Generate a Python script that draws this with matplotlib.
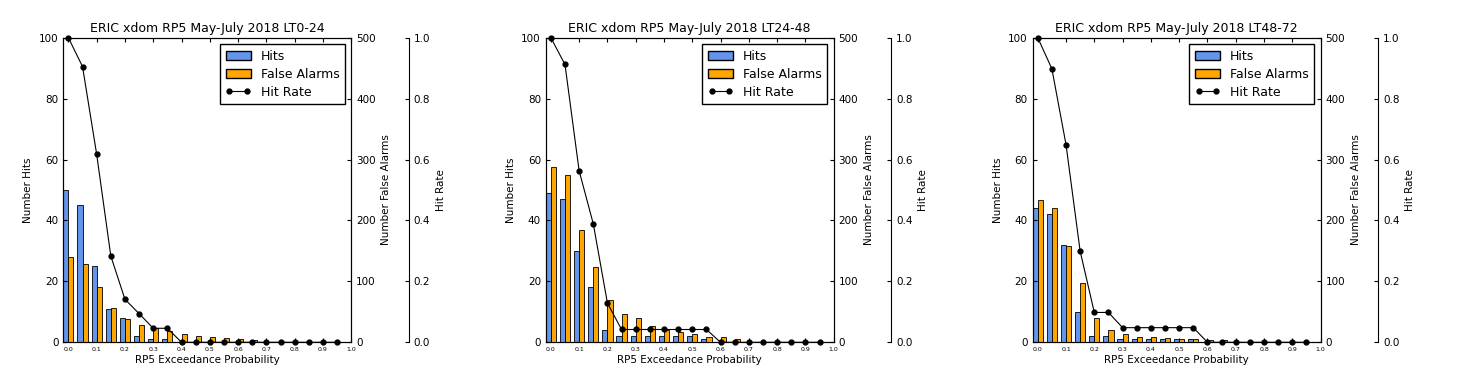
import matplotlib
matplotlib.use('Agg')
import matplotlib.pyplot as plt
from matplotlib.patches import Patch
from matplotlib.lines import Line2D
import numpy as np

# exceedance probability thresholds
probs = [0.0, 0.05, 0.1, 0.15, 0.2, 0.25, 0.3, 0.35, 0.4, 0.45,
         0.5, 0.55, 0.6, 0.65, 0.7, 0.75, 0.8, 0.85, 0.9, 0.95]

# LT0-24
hits_lt0 = [50, 45, 25, 11, 8, 2, 1, 1, 0, 0, 0, 0, 0, 0, 0, 0, 0, 0, 0, 0]
fa_lt0 = [140, 128, 90, 57, 39, 28, 23, 19, 13, 11, 9, 7, 5, 3, 1, 0, 0, 0, 0, 0]
hr_lt0 = [1.0, 0.905, 0.617, 0.283, 0.141, 0.094, 0.046, 0.046, 0.0, 0.0,
          0.0, 0.0, 0.0, 0.0, 0.0, 0.0, 0.0, 0.0, 0.0, 0.0]

# LT24-48
hits_lt24 = [49, 47, 30, 18, 4, 2, 2, 2, 2, 2, 2, 1, 0, 0, 0, 0, 0, 0, 0, 0]
fa_lt24 = [287, 274, 184, 123, 69, 47, 40, 27, 20, 17, 13, 9, 8, 5, 1, 1, 0, 0, 0, 0]
hr_lt24 = [1.0, 0.912, 0.563, 0.389, 0.129, 0.042, 0.042, 0.042, 0.042, 0.042,
           0.042, 0.042, 0.0, 0.0, 0.0, 0.0, 0.0, 0.0, 0.0, 0.0]

# LT48-72
hits_lt48 = [44, 42, 32, 10, 2, 2, 1, 1, 1, 1, 1, 1, 0, 0, 0, 0, 0, 0, 0, 0]
fa_lt48 = [234, 221, 158, 97, 40, 20, 13, 9, 8, 7, 5, 5, 3, 3, 1, 0, 0, 0, 0, 0]
hr_lt48 = [1.0, 0.898, 0.649, 0.299, 0.098, 0.098, 0.048, 0.048, 0.048, 0.048,
           0.048, 0.048, 0.0, 0.0, 0.0, 0.0, 0.0, 0.0, 0.0, 0.0]

titles = ['ERIC xdom RP5 May-July 2018 LT0-24',
          'ERIC xdom RP5 May-July 2018 LT24-48',
          'ERIC xdom RP5 May-July 2018 LT48-72']

hit_col = '#6495ED'
fa_col = '#FFA500'
w = 0.018

fig = plt.figure(figsize=(14.79, 3.81), dpi=100)
lefts = [0.0428, 0.369, 0.6982]

def panel(left, hits, fa, hr, title):
    ax = fig.add_axes([left, 0.1016, 0.1947, 0.7995])
    x = np.array(probs)
    ax.bar(x - w/2, hits, width=w, color=hit_col, edgecolor='k', linewidth=0.6)
    ax.set_ylim(0, 100)
    ax.set_xlim(-w, 1.0)
    ax.set_yticks([0, 20, 40, 60, 80, 100])
    ax.set_xticks(np.arange(0, 1.01, 0.1))
    ax.set_xticklabels(['%.1f' % v for v in np.arange(0, 1.01, 0.1)])
    ax.tick_params(axis='x', labelsize=4.5, direction='in', top=True, length=3)
    ax.tick_params(axis='y', labelsize=7.5, direction='in', length=3)
    ax.set_xlabel('RP5 Exceedance Probability', fontsize=7.5, labelpad=2)
    ax.set_ylabel('Number Hits', fontsize=7.5)
    ax.set_title(title, fontsize=9, pad=4)

    ax2 = ax.twinx()
    ax2.bar(x + w/2, fa, width=w, color=fa_col, edgecolor='k', linewidth=0.6)
    ax2.set_ylim(0, 500)
    ax2.set_yticks([0, 100, 200, 300, 400, 500])
    ax2.tick_params(axis='y', labelsize=7.5, direction='in', length=3)
    ax2.set_ylabel('Number False Alarms', fontsize=7.5)

    ax3 = ax.twinx()
    ax3.spines['right'].set_position(('axes', 1.2))
    ax3.set_frame_on(True)
    ax3.patch.set_visible(False)
    for s in ['top', 'bottom', 'left']:
        ax3.spines[s].set_visible(False)
    ax3.plot(x, hr, 'k-o', linewidth=0.8, markersize=3.5, clip_on=False, zorder=5)
    ax3.set_ylim(0, 1.0)
    ax3.set_yticks([0.0, 0.2, 0.4, 0.6, 0.8, 1.0])
    ax3.set_yticklabels(['0.0', '0.2', '0.4', '0.6', '0.8', '1.0'])
    ax3.tick_params(axis='y', labelsize=7.5, direction='in', length=3)
    ax3.set_ylabel('Hit Rate', fontsize=7.5)

    handles = [Patch(facecolor=hit_col, edgecolor='k'),
               Patch(facecolor=fa_col, edgecolor='k'),
               Line2D([], [], color='k', marker='o', markersize=3.5, linewidth=0.8)]
    leg = ax3.legend(handles, ['Hits', 'False Alarms', 'Hit Rate'], loc='upper right',
                     fontsize=9, numpoints=2, fancybox=False, framealpha=1,
                     borderpad=0.45, labelspacing=0.4, handlelength=2.0)
    leg.get_frame().set_edgecolor('k')

panel(lefts[0], hits_lt0, fa_lt0, hr_lt0, titles[0])
panel(lefts[1], hits_lt24, fa_lt24, hr_lt24, titles[1])
panel(lefts[2], hits_lt48, fa_lt48, hr_lt48, titles[2])

fig.savefig('out.png', dpi=100)
